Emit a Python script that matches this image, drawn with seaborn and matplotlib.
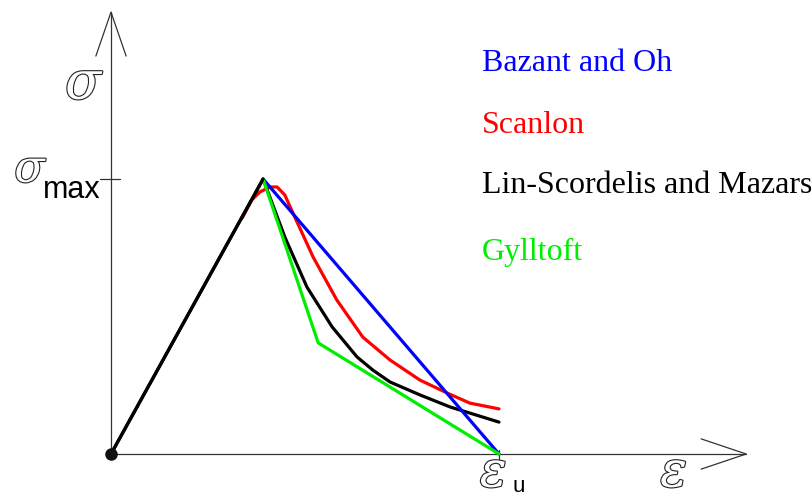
import matplotlib
matplotlib.use("Agg")
import matplotlib.pyplot as plt
import matplotlib.patheffects as pe
import pandas as pd
import seaborn as sns

#==================
# Data (strain / eps_u, stress / sigma_max)
#==================
rise_eps = [0.0, 0.392]
rise_sig = [0.0, 1.0]

bazant_eps = [0.392, 1.0]
bazant_sig = [1.0, 0.0]

scanlon_eps = [0.338, 0.363, 0.384, 0.410, 0.428, 0.448, 0.469, 0.521, 0.582,
               0.649, 0.719, 0.796, 0.866, 0.925, 1.0]
scanlon_sig = [0.858, 0.924, 0.953, 0.971, 0.971, 0.942, 0.876, 0.716, 0.560,
               0.425, 0.342, 0.269, 0.222, 0.185, 0.164]

linsc_eps = [0.0, 0.392, 0.448, 0.505, 0.570, 0.634, 0.675, 0.719, 0.796, 0.874, 1.0]
linsc_sig = [0.0, 1.0, 0.789, 0.607, 0.462, 0.353, 0.305, 0.262, 0.215, 0.171, 0.116]

gylltoft_eps = [0.392, 0.534, 1.0]
gylltoft_sig = [1.0, 0.404, 0.0]

labels = ["Bazant and Oh", "Scanlon", "Lin-Scordelis and Mazars", "Gylltoft"]
colors = ["#0000ff", "#ff0000", "#000000", "#00ee00"]
label_y = [1.393, 1.167, 0.949, 0.705]

#==================
# Figure
#==================
sns.set_style("white")
fig = plt.figure(figsize=(8.12, 4.99), dpi=100)
ax = fig.add_axes([0, 0, 1, 1])
ax.set_xlim(-111 / 388, 701 / 388)
ax.set_ylim(-45 / 275, 454 / 275)
ax.axis("off")

axis_col = "#333333"
# axes with arrows
ax.plot([0, 1.637], [0, 0], color=axis_col, lw=0.9)
ax.plot([1.521, 1.637, 1.521], [0.055, 0, -0.055], color=axis_col, lw=0.9)
ax.plot([0, 0], [0, 1.607], color=axis_col, lw=0.9)
ax.plot([-0.039, 0, 0.039], [1.447, 1.607, 1.447], color=axis_col, lw=0.9)
# ticks
ax.plot([-0.028, 0.023], [1.0, 1.0], color=axis_col, lw=0.9)
ax.plot([1.0, 1.0], [0.015, -0.033], color=axis_col, lw=0.9)

series = [
    (scanlon_eps, scanlon_sig, colors[1]),
    (linsc_eps, linsc_sig, colors[2]),
    (bazant_eps, bazant_sig, colors[0]),
    (gylltoft_eps, gylltoft_sig, colors[3]),
]
for xs, ys, c in series:
    df = pd.DataFrame({"eps": xs, "sig": ys})
    sns.lineplot(data=df, x="eps", y="sig", sort=False, color=c, lw=2.3,
                 solid_joinstyle="round", ax=ax)

ax.plot(rise_eps, rise_sig, color="black", lw=2.3)
ax.plot([0], [0], "o", color="#111111", ms=8)

for lab, c, y in zip(labels, colors, label_y):
    ax.text(0.956, y, lab, color=c, fontsize=23, family="Liberation Serif",
            va="baseline", ha="left")

outline = [pe.withStroke(linewidth=1.6, foreground="#222222")]
ax.text(-0.072, 1.345, "σ", fontsize=38, family="DejaVu Serif", style="italic",
        color="white", ha="center", va="center", path_effects=outline)
ax.text(-0.21, 0.99, "σ", fontsize=32, family="DejaVu Serif", style="italic",
        color="white", ha="center", va="baseline", path_effects=outline)
ax.text(-0.175, 0.93, "max", fontsize=22, family="Liberation Sans",
        color="black", ha="left", va="baseline")
ax.text(1.45, -0.118, "ε", fontsize=36, family="DejaVu Serif", style="italic",
        color="white", ha="center", va="baseline", path_effects=outline)
ax.text(0.985, -0.118, "ε", fontsize=36, family="DejaVu Serif", style="italic",
        color="white", ha="center", va="baseline", path_effects=outline)
ax.text(1.035, -0.14, "u", fontsize=16, family="Liberation Sans",
        color="black", ha="left", va="baseline")

fig.savefig("out.png", dpi=100)
